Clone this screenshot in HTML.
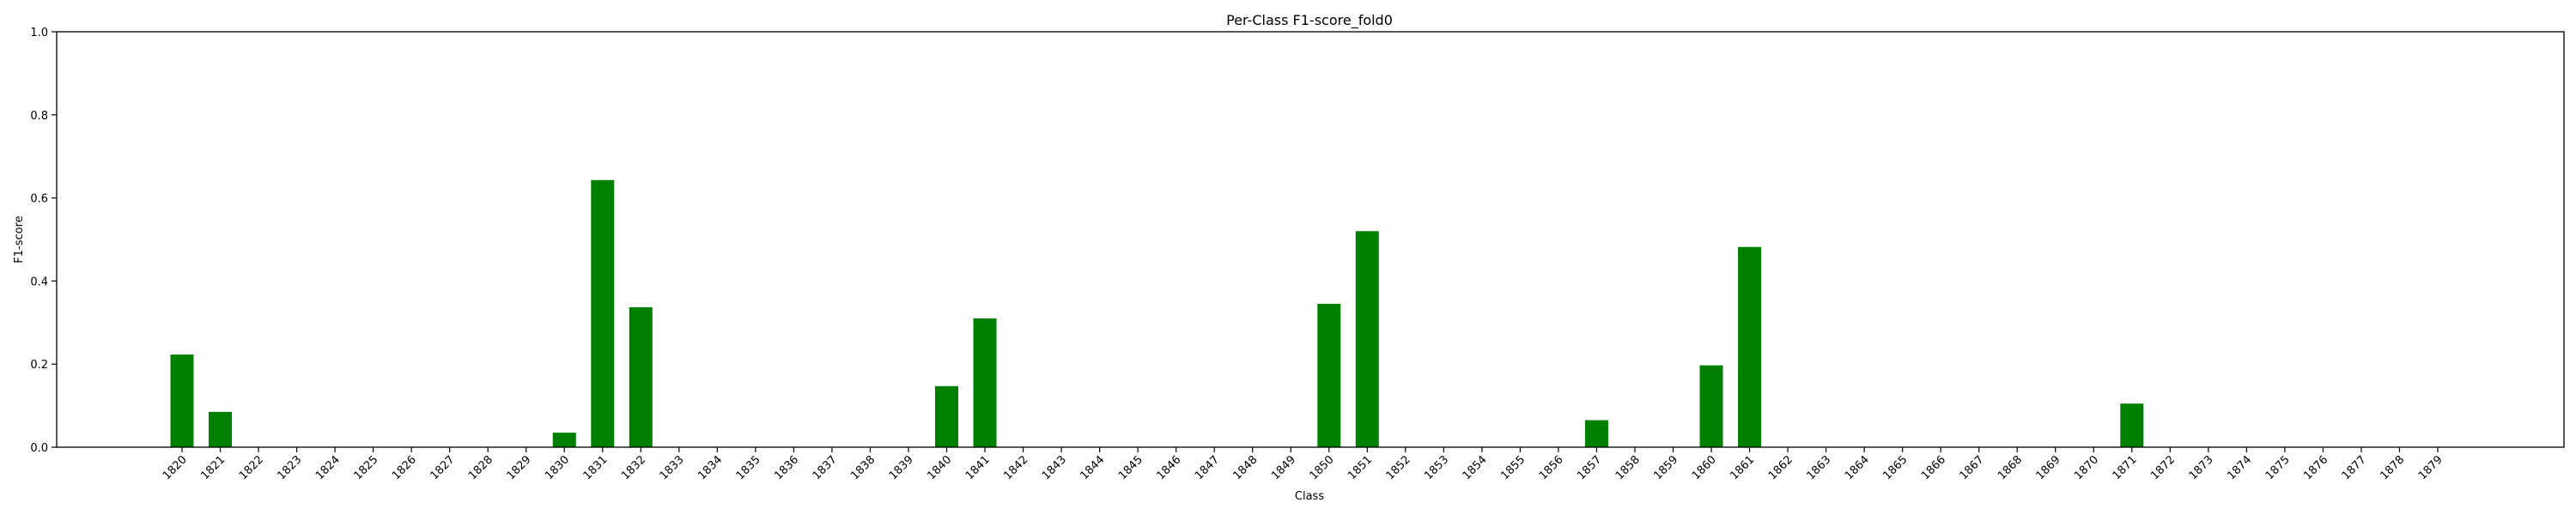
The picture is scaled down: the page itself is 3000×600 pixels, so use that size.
<!DOCTYPE html>
<html><head><meta charset="utf-8"><style>body{margin:0;background:#fff}svg{display:block}text{font-family:"DejaVu Sans","Liberation Sans",sans-serif;fill:#000}</style></head>
<body>
<svg id="chart" width="3000" height="600" xmlns="http://www.w3.org/2000/svg">
<text x="1525" y="29" font-size="16" text-anchor="middle">Per-Class F1-score_fold0</text>
<text x="1525" y="582" font-size="13" text-anchor="middle">Class</text>
<text transform="translate(26,279) rotate(-90)" font-size="13" text-anchor="middle">F1-score</text>
<g id="bars"></g><g id="xt"></g><g id="yt"></g>
<rect x="66" y="37" width="2920" height="484" fill="none" stroke="#000" stroke-width="1.3"/>
</svg>
<script>
const categories = [];
for (let c = 1820; c <= 1879; c++) categories.push(String(c));
const nonzeroClasses = ["1820","1821","1830","1831","1832","1840","1841","1850","1851","1857","1860","1861","1871"];
const nonzeroValues = [0.223,0.085,0.035,0.643,0.337,0.147,0.31,0.345,0.52,0.065,0.197,0.482,0.105];
const yTicks = [0.0,0.2,0.4,0.6,0.8,1.0];
const yTickLabels = ["0.0","0.2","0.4","0.6","0.8","1.0"];
const NS="http://www.w3.org/2000/svg";
const x0=212, step=(2839-212)/59, bw=27, yb=521, yh=484;
const xs=i=>x0+i*step, ys=v=>yb-v*yh;
function mk(t,a,p){const e=document.createElementNS(NS,t);for(const k in a)e.setAttribute(k,a[k]);p.appendChild(e);return e;}
const bars=document.getElementById('bars'),xt=document.getElementById('xt'),yt=document.getElementById('yt');
nonzeroClasses.forEach((c,j)=>{const i=categories.indexOf(c);const v=nonzeroValues[j];
const r=mk('rect',{x:xs(i)-bw/2,y:ys(v),width:bw,height:v*yh,fill:'#008000'},bars);

});
categories.forEach((c,i)=>{const x=xs(i);
const l=mk('line',{x1:x,x2:x,y1:yb,y2:yb+6,stroke:'#000','stroke-width':1.2},xt);


const t=mk('text',{transform:`translate(${x+6},${yb+15}) rotate(-45)`,'font-size':13,'text-anchor':'end'},xt);t.textContent=c;

});
yTicks.forEach((v,i)=>{const y=ys(v);
const l=mk('line',{x1:60,x2:66,y1:y,y2:y,stroke:'#000','stroke-width':1.2},yt);


const t=mk('text',{x:56,y:y+5,'font-size':13,'text-anchor':'end'},yt);t.textContent=yTickLabels[i];

});
</script>
</body></html>
